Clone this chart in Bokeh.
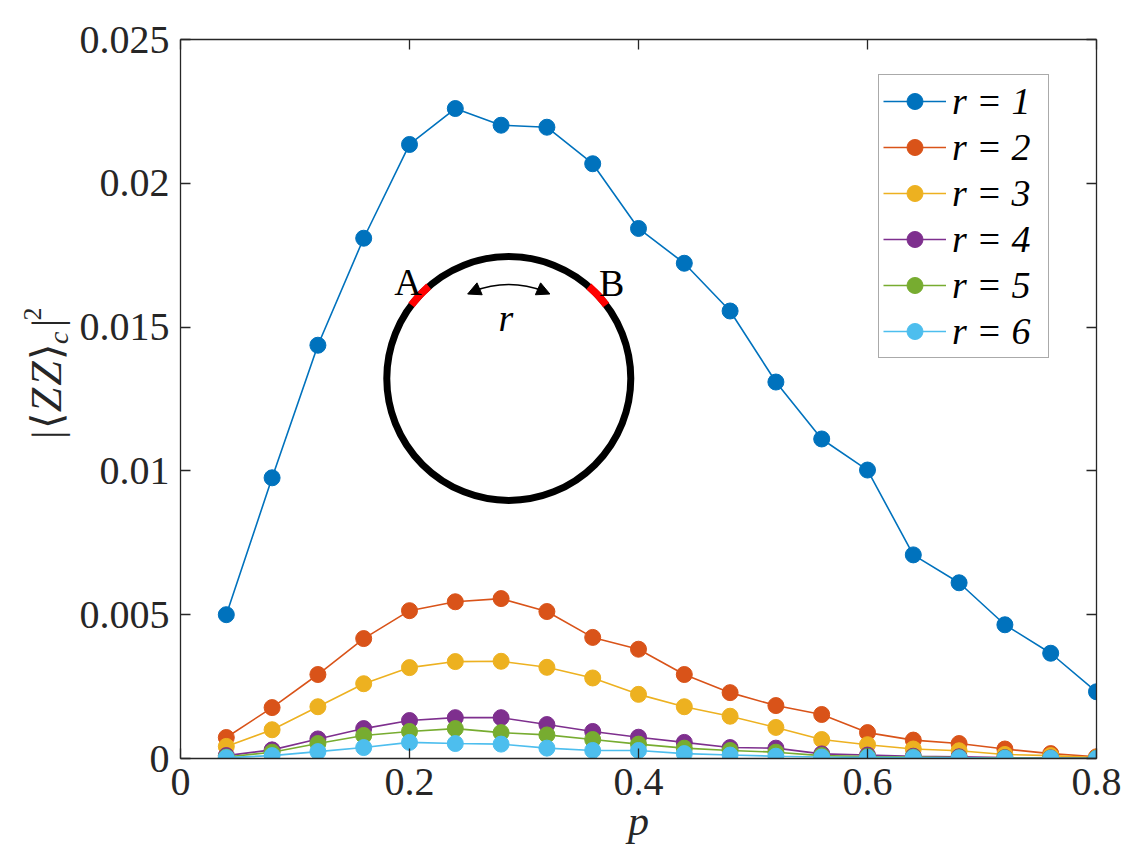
import math
from bokeh.plotting import figure
from bokeh.layouts import row
from bokeh.models import (Range1d, FixedTicker, LinearAxis, Label, Legend, LegendItem,
                          Arrow, NormalHead, CustomJSTickFormatter, CustomLabelingPolicy)
from bokeh.embed import file_html
from bokeh.resources import INLINE

# ---------------- data ----------------
p_vals = [0.04, 0.08, 0.12, 0.16, 0.20, 0.24, 0.28, 0.32, 0.36, 0.40,
          0.44, 0.48, 0.52, 0.56, 0.60, 0.64, 0.68, 0.72, 0.76, 0.80]
r1 = [0.0050, 0.00976, 0.01437, 0.01809, 0.02135, 0.0226, 0.02202, 0.02195, 0.02068, 0.01843,
      0.01722, 0.01556, 0.01309, 0.01111, 0.01003, 0.00708, 0.00611, 0.00465, 0.00366, 0.00232]
r2 = [0.00073, 0.00177, 0.00292, 0.00417, 0.00514, 0.00545, 0.00556, 0.00511, 0.00421, 0.0038,
      0.00292, 0.00229, 0.00184, 0.00153, 0.0009, 0.00064, 0.00052, 0.00033, 0.00017, 0.00006]
r3 = [0.00042, 0.00100, 0.0018, 0.0026, 0.00316, 0.00337, 0.00338, 0.00317, 0.0028, 0.00223,
      0.0018, 0.00147, 0.00108, 0.00066, 0.00048, 0.00033, 0.00027, 0.00014, 0.0001, 0.00003]
r4 = [0.0001, 0.0003, 0.00068, 0.00104, 0.00132, 0.00142, 0.00142, 0.00118, 0.00094, 0.00074,
      0.00056, 0.00038, 0.00036, 0.00016, 0.00012, 0.00008, 0.00006, 0.00003, 0.00002, 0.00001]
r5 = [0.00005, 0.00022, 0.00052, 0.0008, 0.00094, 0.00104, 0.0009, 0.00082, 0.00066, 0.0005,
      0.00036, 0.00028, 0.00022, 0.0001, 0.00007, 0.00005, 0.00003, 0.00002, 0.00001, 0.00001]
r6 = [0.00003, 0.0001, 0.00024, 0.00038, 0.00056, 0.00052, 0.0005, 0.00036, 0.00028, 0.00028,
      0.00017, 0.00012, 0.00008, 0.00005, 0.00004, 0.00003, 0.00002, 0.00001, 0.00001, 0.0]
series = [r1, r2, r3, r4, r5, r6]
series_names = ["r = 1", "r = 2", "r = 3", "r = 4", "r = 5", "r = 6"]
colors = ["#0072BD", "#D95319", "#EDB120", "#7E2F8E", "#77AC30", "#4DBEEE"]

x_ticks = [0, 0.2, 0.4, 0.6, 0.8]
x_tick_labels = ["0", "0.2", "0.4", "0.6", "0.8"]
y_ticks = [0, 0.005, 0.01, 0.015, 0.02, 0.025]
y_tick_labels = ["0", "0.005", "0.01", "0.015", "0.02", "0.025"]
x_title = "p"

# ---------------- layout ----------------
W, H = 1144, 862
LW = 76                                  # strip on the left that holds the y title
FL, FR, FT, FB = 178, 1096, 39, 758      # frame edges in canvas px
X0, X1, Y0, Y1 = 0.0, 0.8, 0.0, 0.025
PXX = (FR - FL) / (X1 - X0)
PXY = (FB - FT) / (Y1 - Y0)
SERIF = "Liberation Serif"
AX = "#262626"
TICK_FS = "40px"

p = figure(width=W - LW, height=H, x_range=Range1d(X0, X1), y_range=Range1d(Y0, Y1),
           output_backend="svg", toolbar_location=None,
           min_border_left=FL - LW, min_border_right=W - FR,
           min_border_top=FT, min_border_bottom=H - FB)
p.grid.visible = False
p.outline_line_color = None
p.background_fill_color = "white"
p.border_fill_color = "white"

fmt_code = """
let best = 0, bd = 1e9;
for (let i = 0; i < tv.length; i++) {
  const d = Math.abs(tv[i] - tick);
  if (d < bd) { bd = d; best = i; }
}
return tl[best];
"""
xfmt = CustomJSTickFormatter(args=dict(tv=x_ticks, tl=x_tick_labels), code=fmt_code)
yfmt = CustomJSTickFormatter(args=dict(tv=y_ticks, tl=y_tick_labels), code=fmt_code)
hide_all = CustomLabelingPolicy(code="""
for (const i of Array.from(indices)) { indices.unset(i) }
return indices
""")


def style_axis(ax, ticks, fmt, show_labels):
    ax.ticker = FixedTicker(ticks=ticks)
    ax.formatter = fmt
    ax.axis_line_color = AX
    ax.axis_line_width = 1.3
    ax.major_tick_line_color = AX
    ax.major_tick_line_width = 1.3
    ax.major_tick_in = 10
    ax.major_tick_out = 0
    ax.minor_tick_in = 0
    ax.minor_tick_out = 0
    ax.major_label_text_font = SERIF
    ax.major_label_text_color = AX
    if show_labels:
        ax.major_label_text_font_size = TICK_FS
        ax.major_label_standoff = 11
    else:
        ax.major_label_text_font_size = "0px"
        ax.major_label_policy = hide_all
        ax.major_label_standoff = 0


style_axis(p.xaxis[0], x_ticks, xfmt, True)
style_axis(p.yaxis[0], y_ticks, yfmt, True)
p.xaxis[0].major_label_standoff = 10
p.xaxis[0].axis_label = x_title
p.xaxis[0].axis_label_text_font = SERIF
p.xaxis[0].axis_label_text_font_style = "italic"
p.xaxis[0].axis_label_text_font_size = "42px"
p.xaxis[0].axis_label_text_color = AX
p.xaxis[0].axis_label_standoff = 0

ax_top = LinearAxis()
style_axis(ax_top, x_ticks, xfmt, False)
p.add_layout(ax_top, "above")
ax_right = LinearAxis()
style_axis(ax_right, y_ticks, yfmt, False)
p.add_layout(ax_right, "right")

# ---------------- data series ----------------
items = []
for name, col, ys in zip(series_names, colors, series):
    ln = p.line(p_vals, ys, line_color=col, line_width=1.6)
    sc = p.scatter(p_vals, ys, marker="circle", size=16, fill_color=col, line_color=col)
    items.append(LegendItem(label=name, renderers=[ln, sc]))

legend = Legend(items=items, location=(876 - FL, FB - 358),
                label_text_font=SERIF, label_text_font_size="38px",
                label_text_font_style="italic", label_text_color="black",
                glyph_width=63, glyph_height=40, label_height=40, label_width=92,
                label_standoff=6, spacing=2, padding=4, margin=0,
                border_line_color="#555555", border_line_width=1.2,
                background_fill_color="white", background_fill_alpha=1.0)
p.add_layout(legend)


# ---------------- inset ring ----------------
def to_data(px, py):
    return X0 + (px - FL) / PXX, Y0 + (FB - py) / PXY


ring_cx, ring_cy = to_data(507, 378)
RING_R = 122
p.circle(x=[ring_cx], y=[ring_cy], radius=RING_R, radius_units="screen",
         fill_color=None, line_color="black", line_width=7)
for a0, a1 in [(131, 143), (37, 49)]:
    p.arc(x=[ring_cx], y=[ring_cy], radius=RING_R, radius_units="screen",
          start_angle=math.radians(a0), end_angle=math.radians(a1),
          line_color="#FF0000", line_width=7.5, line_cap="butt")

ARR_R = 94
p.arc(x=[ring_cx], y=[ring_cy], radius=ARR_R, radius_units="screen",
      start_angle=math.radians(68), end_angle=math.radians(112),
      line_color="black", line_width=1.6)


def ring_pt(theta_deg, r_px):
    t = math.radians(theta_deg)
    return ring_cx + r_px * math.cos(t) / PXX, ring_cy + r_px * math.sin(t) / PXY


for tip_deg, sgn in [(64, -1), (116, 1)]:
    tx, ty = ring_pt(tip_deg, ARR_R)
    sx, sy = ring_pt(tip_deg - sgn * 5, ARR_R)
    p.add_layout(Arrow(x_start=sx, y_start=sy, x_end=tx, y_end=ty, line_color="black",
                       line_width=1.6,
                       end=NormalHead(size=13, fill_color="black", line_color="black")))


def data_label(text, X, Y, size, style="normal"):
    lx, ly = to_data(X, Y)
    p.add_layout(Label(x=lx, y=ly, text=text, text_align="center",
                       text_baseline="alphabetic", text_font=SERIF,
                       text_font_size=f"{size}px", text_font_style=style,
                       text_color="black"))


data_label("A", 406, 281, 38)
data_label("B", 610, 282, 38)
data_label("r", 504, 317, 38, "italic")

# ---------------- y title strip (canvas px coordinates) ----------------
q = figure(width=LW, height=H, x_range=Range1d(0, LW), y_range=Range1d(H, 0),
           output_backend="svg", toolbar_location=None, min_border=0,
           x_axis_location=None, y_axis_location=None)
q.grid.visible = False
q.outline_line_color = None
q.background_fill_color = "white"
q.border_fill_color = "white"

V = math.pi / 2


def ypiece(text, X, Y, size, style="normal"):
    q.add_layout(Label(x=X, y=Y, text=text, angle=V, text_align="left",
                       text_baseline="alphabetic", text_font=SERIF,
                       text_font_size=f"{size}px", text_font_style=style,
                       text_color=AX))


ypiece("|", 46, 479, 42)
ypiece("⟨", 46, 467, 42)
ypiece("Z", 46, 447, 44, "italic")
ypiece("Z", 46, 415, 44, "italic")
ypiece("⟩", 46, 384, 42)
ypiece("c", 58, 365, 28, "italic")
ypiece("|", 46, 345, 42)
ypiece("2", 32, 337, 26)

layout = row(q, p, spacing=0)
open("out.html", "w").write(file_html(layout, INLINE))
